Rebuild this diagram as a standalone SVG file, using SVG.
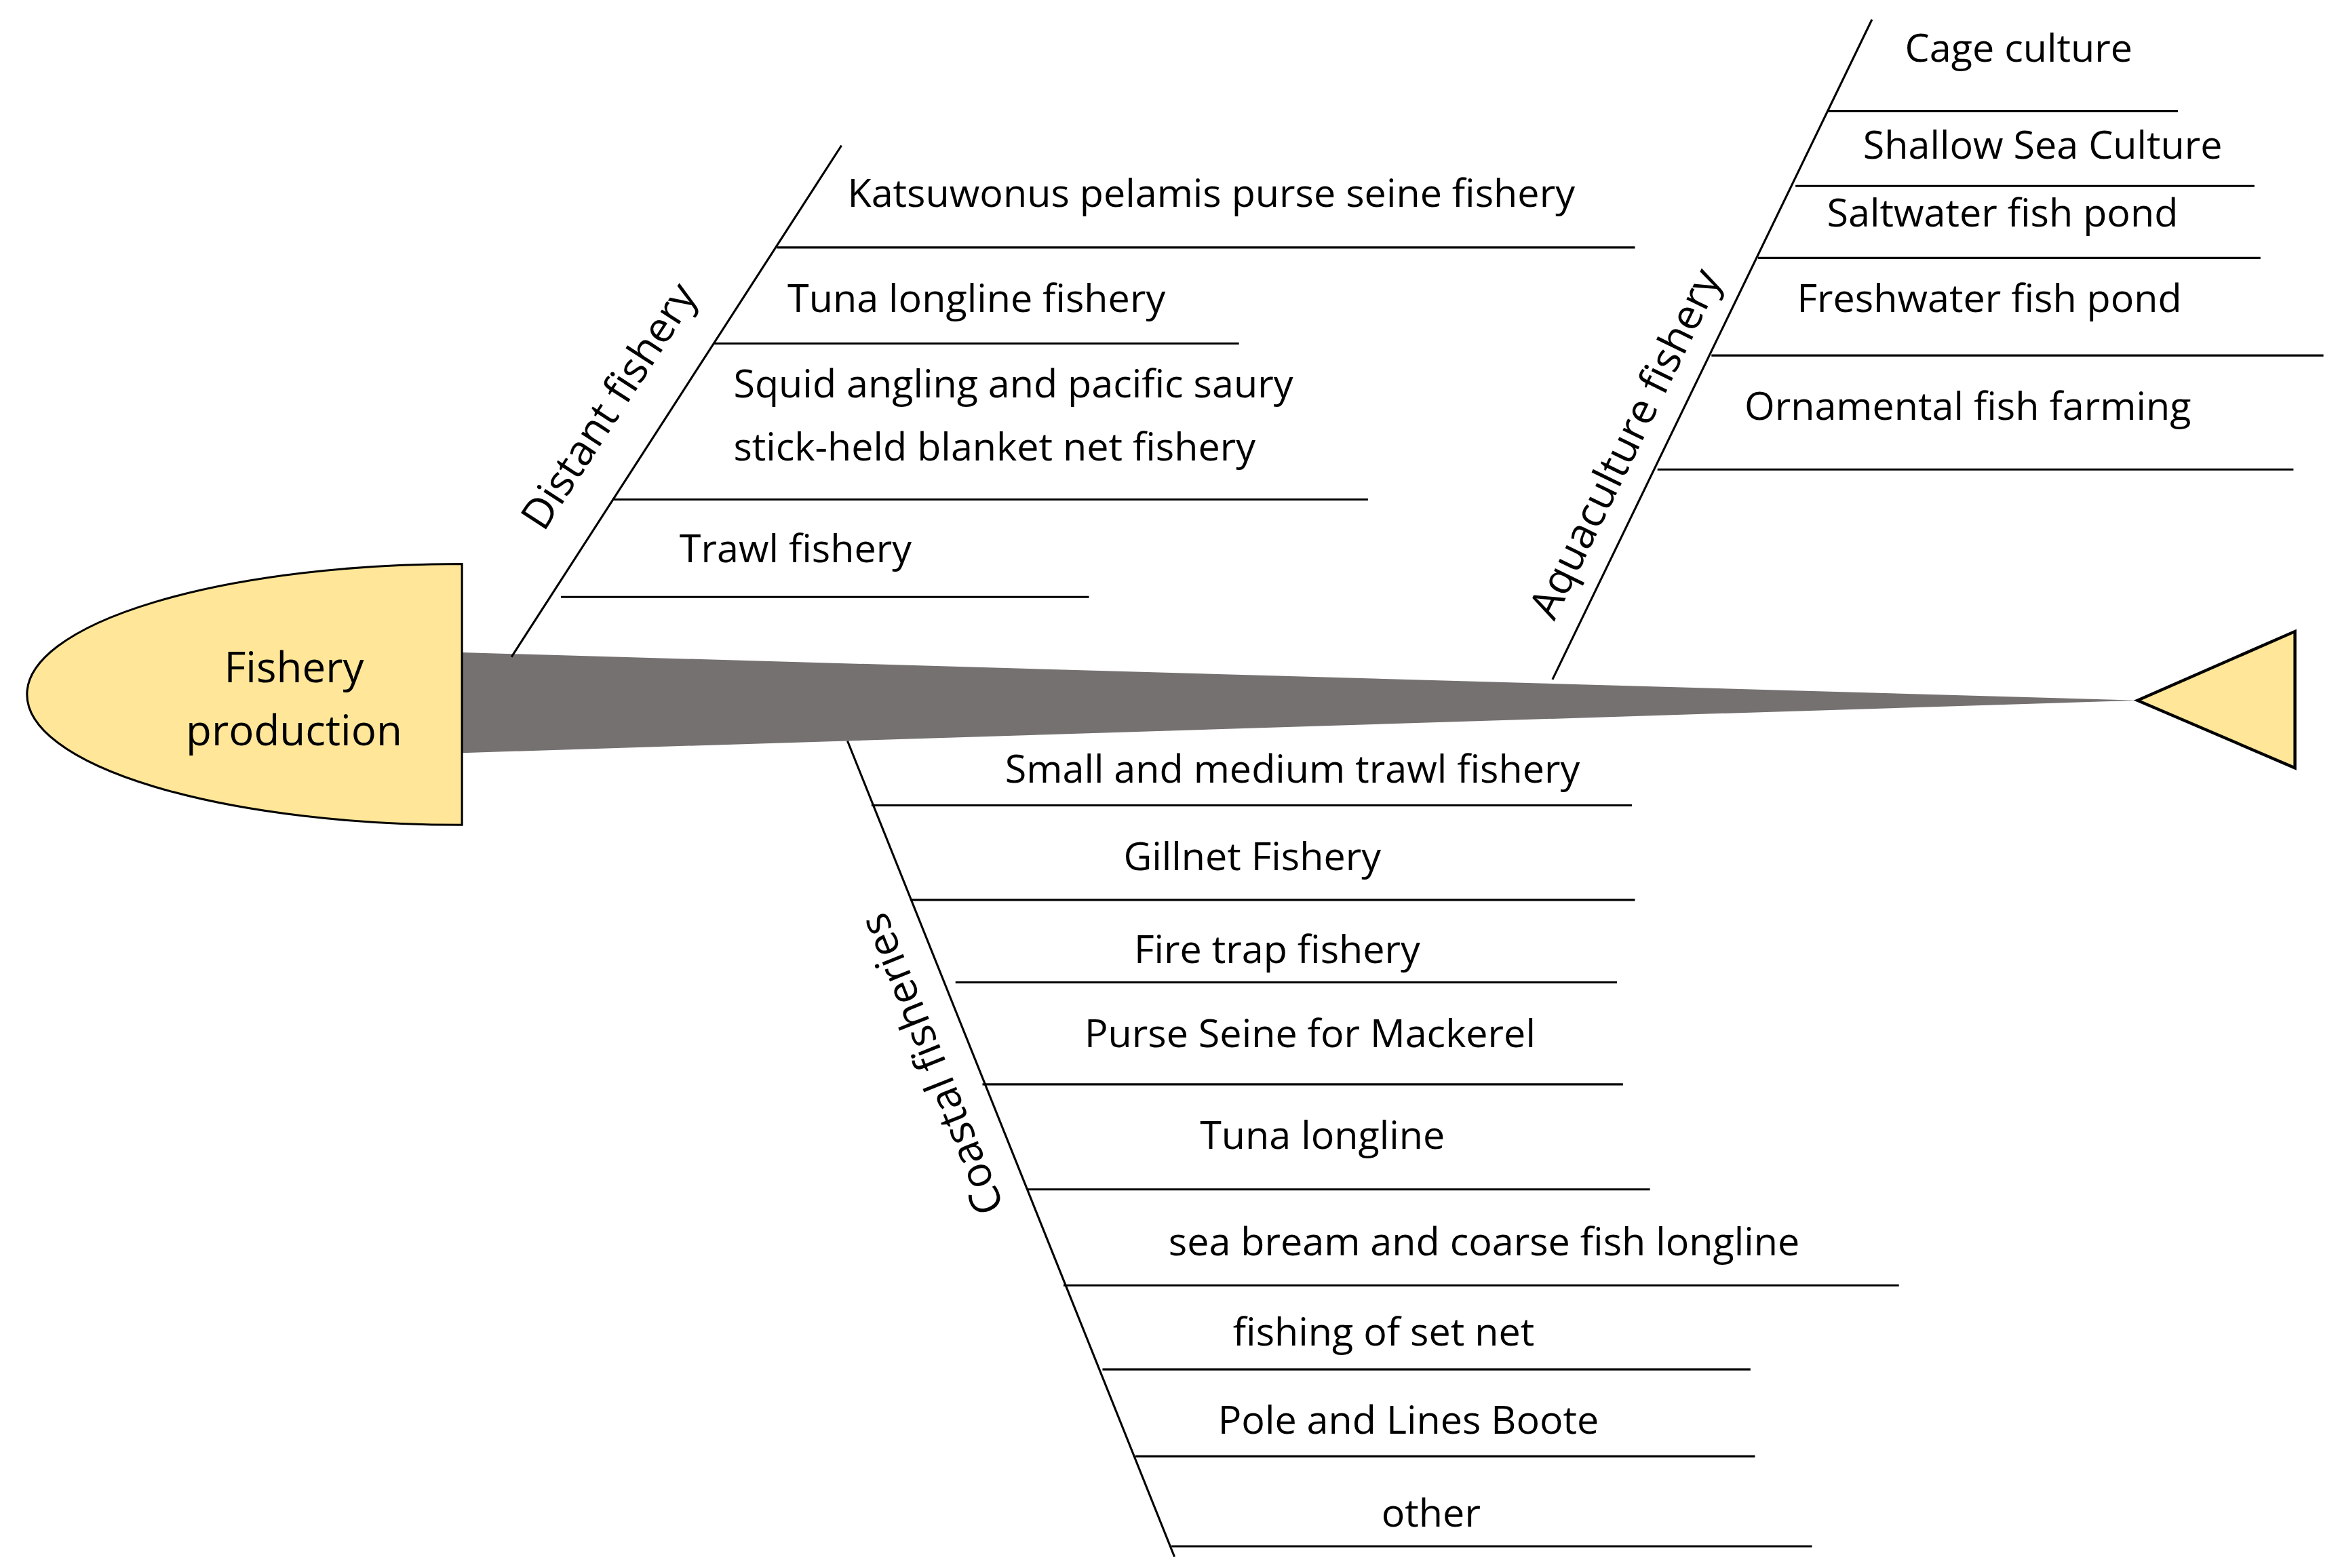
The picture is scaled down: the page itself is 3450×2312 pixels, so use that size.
<svg xmlns="http://www.w3.org/2000/svg" width="3450" height="2312" viewBox="0 0 3450 2312">
<style>
.t{font-family:"Open Sans","Liberation Sans",sans-serif;font-size:26px;fill:#000}
.b{font-family:"Open Sans","Liberation Sans",sans-serif;font-size:28px;fill:#000}
.l{stroke:#000;stroke-width:1.4;fill:none}
</style>
<rect width="3450" height="2312" fill="#fff"/>
<g transform="scale(2.2115)">
<g id="spine"><polygon points="308,435 1425,467 308,502" fill="#767171"/></g>
<g id="head"><path d="M308,376 A290,87 0 0 0 308,550 Z" fill="#FFE699" stroke="#000" stroke-width="1.4"/>
<text class="b" x="196" y="455" text-anchor="middle">Fishery</text>
<text class="b" x="196" y="497" text-anchor="middle">production</text></g>
<g id="tail"><polygon points="1425,467 1530,421 1530,512" fill="#FFE699" stroke="#000" stroke-width="2"/></g>
<g id="connectors">
<line class="l" x1="341" y1="438" x2="561" y2="97"/>
<line class="l" x1="518" y1="165" x2="1090" y2="165"/>
<line class="l" x1="476" y1="229" x2="826" y2="229"/>
<line class="l" x1="408" y1="333" x2="912" y2="333"/>
<line class="l" x1="374" y1="398" x2="726" y2="398"/>
<line class="l" x1="1035" y1="453" x2="1248" y2="13"/>
<line class="l" x1="1219" y1="74" x2="1452" y2="74"/>
<line class="l" x1="1197" y1="124" x2="1503" y2="124"/>
<line class="l" x1="1172" y1="172" x2="1507" y2="172"/>
<line class="l" x1="1141" y1="237" x2="1549" y2="237"/>
<line class="l" x1="1105" y1="313" x2="1529" y2="313"/>
<line class="l" x1="565" y1="494" x2="783" y2="1038"/>
<line class="l" x1="581" y1="537" x2="1088" y2="537"/>
<line class="l" x1="607" y1="600" x2="1090" y2="600"/>
<line class="l" x1="637" y1="655" x2="1078" y2="655"/>
<line class="l" x1="655" y1="723" x2="1082" y2="723"/>
<line class="l" x1="685" y1="793" x2="1100" y2="793"/>
<line class="l" x1="709" y1="857" x2="1266" y2="857"/>
<line class="l" x1="735" y1="913" x2="1167" y2="913"/>
<line class="l" x1="757" y1="971" x2="1170" y2="971"/>
<line class="l" x1="781" y1="1031" x2="1208" y2="1031"/>
</g>
<g id="distant">
<text class="b" x="0" y="0" text-anchor="middle" transform="translate(414,276) rotate(-57)">Distant fishery</text>
<text class="t" x="565" y="138">Katsuwonus pelamis purse seine fishery</text>
<text class="t" x="525" y="208">Tuna longline fishery</text>
<text class="t" x="489" y="265">Squid angling and pacific saury</text>
<text class="t" x="489" y="307">stick-held blanket net fishery</text>
<text class="t" x="453" y="375">Trawl fishery</text>
</g>
<g id="aquaculture">
<text class="b" x="0" y="0" text-anchor="middle" transform="translate(1092,300) rotate(-64)">Aquaculture fishery</text>
<text class="t" x="1270" y="41">Cage culture</text>
<text class="t" x="1242" y="106">Shallow Sea Culture</text>
<text class="t" x="1218" y="151">Saltwater fish pond</text>
<text class="t" x="1198" y="208">Freshwater fish pond</text>
<text class="t" x="1163" y="280">Ornamental fish farming</text>
</g>
<g id="coastal">
<text class="b" x="0" y="0" text-anchor="middle" transform="translate(630,706) rotate(-111.8)">Coastal fisheries</text>
<text class="t" x="670" y="522">Small and medium trawl fishery</text>
<text class="t" x="749" y="580">Gillnet Fishery</text>
<text class="t" x="756" y="642">Fire trap fishery</text>
<text class="t" x="723" y="698">Purse Seine for Mackerel</text>
<text class="t" x="800" y="766">Tuna longline</text>
<text class="t" x="779" y="837">sea bream and coarse fish longline</text>
<text class="t" x="822" y="897">fishing of set net</text>
<text class="t" x="812" y="956">Pole and Lines Boote</text>
<text class="t" x="921" y="1018">other</text>
</g>
</g>
</svg>
